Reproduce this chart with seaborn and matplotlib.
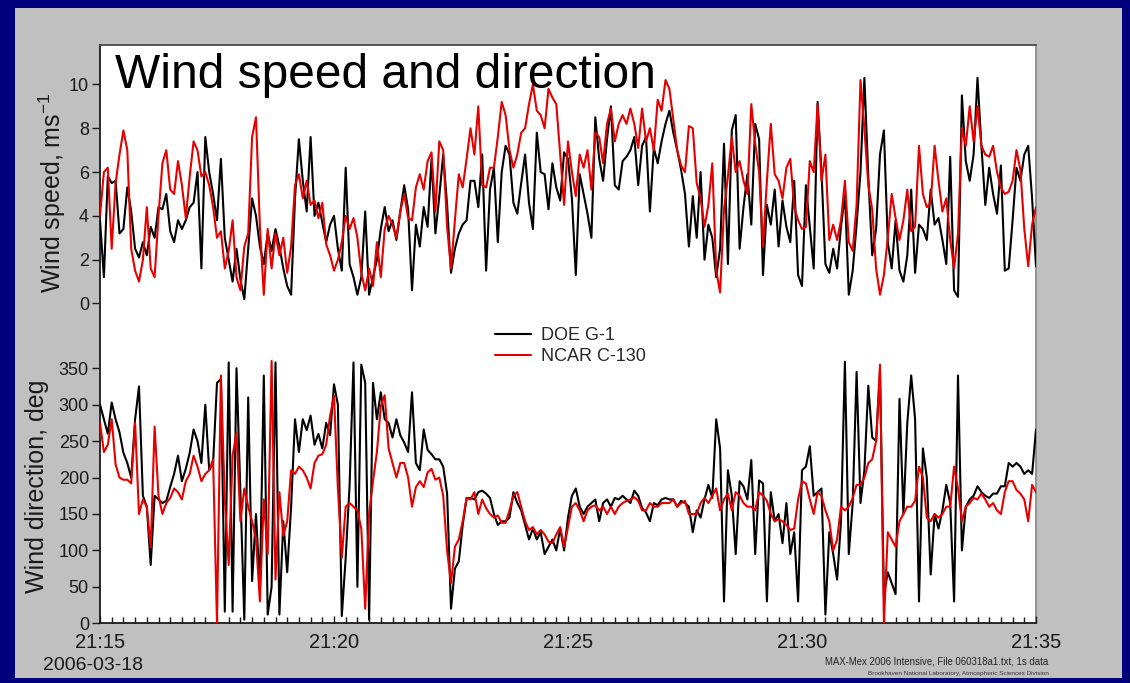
import numpy as np
import pandas as pd
import matplotlib
matplotlib.use("Agg")
import matplotlib.pyplot as plt
from matplotlib.patches import Rectangle
from matplotlib.lines import Line2D
from matplotlib.ticker import MultipleLocator
import seaborn as sns

# Sample times: seconds after 21:15:00, one value every 5 s up to 21:35:00
seconds = np.arange(0, 1201, 5)

aircraft = ["DOE G-1", "NCAR C-130"]
line_colors = ["#000000", "#e60000"]

# Wind speed, m/s
g1_speed = [
    3.8, 1.2, 5.8, 5.5, 5.6, 3.2, 3.4, 5.3, 4.2, 2.5,
    2.1, 2.8, 2.2, 3.5, 3.0, 4.4, 4.3, 5.0, 3.3, 2.8,
    3.8, 3.4, 3.8, 4.4, 4.6, 6.0, 1.6, 7.6, 6.0, 5.0,
    3.8, 6.6, 3.0, 2.0, 1.0, 2.5, 1.1, 0.2, 2.5, 4.8,
    4.0, 2.6, 1.8, 3.2, 2.4, 3.4, 2.6, 1.6, 0.8, 0.4,
    4.8, 7.5, 5.6, 4.2, 7.6, 4.0, 4.6, 3.7, 2.8, 3.6,
    4.0, 2.5, 1.5, 6.2, 1.8, 1.2, 0.4, 1.2, 4.2, 0.4,
    1.2, 2.0, 3.4, 4.4, 3.3, 3.8, 2.9, 4.2, 5.4, 4.3,
    0.6, 3.6, 2.6, 4.4, 3.5, 6.6, 3.2, 4.9, 6.8, 4.5,
    1.4, 2.5, 3.2, 3.6, 3.8, 5.6, 5.6, 4.4, 6.8, 1.5,
    5.2, 6.2, 2.8, 6.0, 7.2, 6.8, 4.6, 4.1, 5.5, 6.8,
    4.6, 3.4, 7.8, 6.0, 5.9, 4.3, 6.4, 5.3, 4.7, 6.9,
    6.6, 4.8, 1.3, 5.9, 5.0, 4.1, 3.0, 8.5, 6.6, 5.6,
    7.5, 9.0, 5.4, 5.2, 6.5, 6.7, 7.0, 7.6, 5.4, 7.2,
    7.6, 4.2, 7.1, 6.4, 7.4, 8.2, 8.8, 7.8, 7.0, 6.1,
    5.0, 2.6, 4.9, 3.0, 6.0, 2.0, 3.6, 3.0, 1.2, 2.5,
    7.3, 1.8, 7.9, 8.6, 2.5, 4.4, 5.9, 3.6, 8.2, 7.5,
    1.3, 4.5, 3.6, 5.2, 2.6, 4.7, 3.5, 2.8, 5.6, 1.3,
    0.8, 5.4, 3.5, 1.6, 9.2, 6.0, 1.8, 1.4, 2.5, 1.6,
    3.5, 5.0, 0.4, 1.5, 3.6, 6.0, 10.3, 5.8, 2.2, 3.4,
    6.8, 7.9, 2.8, 1.6, 3.8, 1.5, 1.0, 2.2, 5.2, 1.4,
    3.6, 3.4, 2.9, 5.2, 3.6, 3.9, 2.9, 1.8, 6.7, 0.6,
    0.3, 9.5, 6.5, 5.6, 6.8, 10.3, 7.2, 4.5, 6.2, 5.0,
    4.1, 6.3, 1.5, 1.6, 3.8, 6.2, 5.6, 6.8, 7.2, 4.8, 1.7,
]
c130_speed = [
    4.0, 6.0, 6.2, 2.5, 5.5, 6.8, 7.9, 7.0, 2.5, 1.5,
    1.0, 2.0, 4.4, 1.6, 1.2, 4.0, 6.4, 7.0, 5.2, 5.0,
    6.5, 5.4, 3.9, 5.8, 7.4, 7.0, 5.8, 6.0, 5.4, 4.4,
    3.0, 3.3, 1.6, 2.4, 3.8, 1.2, 0.6, 2.6, 3.2, 7.6,
    8.5, 3.5, 0.4, 3.4, 1.6, 3.2, 2.2, 3.0, 1.4, 2.6,
    5.4, 5.9, 4.8, 5.6, 4.5, 4.7, 3.9, 4.6, 2.7, 2.2,
    1.5, 2.0, 2.8, 4.0, 3.4, 3.9, 3.0, 1.4, 0.6, 1.6,
    0.8, 2.8, 1.2, 3.4, 4.0, 3.6, 3.0, 4.2, 5.0, 3.9,
    3.8, 5.3, 5.9, 5.2, 6.5, 6.9, 4.2, 7.4, 7.0, 3.5,
    1.6, 3.8, 5.9, 5.3, 6.6, 8.0, 6.8, 9.0, 5.4, 5.3,
    6.2, 6.2, 7.6, 9.2, 8.6, 7.0, 6.2, 6.8, 7.8, 8.0,
    9.1, 10.0, 8.8, 8.6, 8.0, 9.8, 9.4, 9.1, 6.8, 4.5,
    7.4, 6.0, 4.9, 6.8, 6.2, 7.0, 5.2, 7.8, 7.6, 6.4,
    8.2, 8.9, 7.4, 8.2, 8.6, 8.2, 8.9, 8.2, 7.1, 8.9,
    7.4, 8.0, 7.0, 9.3, 8.8, 10.2, 9.8, 8.4, 7.0, 6.3,
    6.0, 8.1, 8.0, 5.5, 4.8, 3.5, 4.5, 6.4, 1.5, 0.5,
    4.3, 5.8, 7.6, 6.0, 6.5, 5.6, 5.0, 9.1, 7.3, 6.0,
    2.6, 5.6, 8.2, 5.9, 5.6, 4.8, 6.2, 6.6, 4.4, 3.8,
    3.4, 3.5, 6.5, 6.0, 9.1, 5.6, 6.8, 2.9, 3.6, 2.9,
    3.8, 5.6, 2.8, 2.4, 4.5, 10.2, 8.0, 5.4, 4.3, 1.6,
    0.4, 1.3, 3.0, 5.0, 3.9, 2.9, 3.8, 5.2, 3.3, 3.5,
    7.2, 5.0, 4.4, 4.6, 7.2, 5.6, 4.2, 4.8, 2.9, 1.6,
    3.2, 8.0, 7.2, 9.0, 7.4, 9.0, 7.2, 6.8, 6.7, 7.2,
    6.0, 5.3, 5.0, 5.1, 5.6, 7.0, 6.1, 3.4, 1.7, 3.6, 4.4,
]

# Wind direction, degrees
g1_dir = [
    300, 280, 260, 303, 280, 262, 234, 220, 200, 280,
    325, 175, 160, 80, 175, 170, 165, 168, 187, 205,
    230, 195, 212, 234, 266, 250, 220, 300, 210, 220,
    330, 335, 16, 358, 16, 350, 180, 5, 310, 58,
    150, 49, 340, 12, 50, 358, 12, 140, 70, 160,
    280, 235, 280, 265, 285, 245, 260, 240, 275, 258,
    328, 300, 10, 90, 190, 358, 50, 355, 330, 5,
    330, 280, 317, 280, 275, 255, 280, 258, 248, 235,
    317, 220, 210, 266, 238, 232, 225, 225, 215, 178,
    20, 75, 85, 135, 172, 172, 170, 180, 182, 178,
    172, 150, 135, 140, 140, 145, 180, 165, 155, 135,
    115, 130, 115, 125, 95, 105, 115, 100, 130, 100,
    145, 175, 185, 160, 150, 160, 165, 170, 140, 165,
    170, 160, 172, 170, 175, 170, 165, 182, 175, 158,
    152, 140, 165, 162, 170, 172, 170, 170, 160, 168,
    165, 160, 125, 155, 145, 170, 190, 172, 280, 240,
    30, 210, 175, 95, 195, 188, 170, 224, 95, 196,
    192, 30, 180, 140, 150, 110, 165, 95, 125, 30,
    210, 215, 243, 175, 180, 185, 12, 125, 95, 60,
    140, 359, 95, 165, 345, 165, 210, 326, 255, 250,
    345, 39, 70, 55, 40, 308, 150, 275, 340, 280,
    30, 240, 200, 67, 150, 130, 155, 190, 165, 30,
    340, 100, 160, 170, 175, 188, 180, 175, 172, 178,
    178, 188, 188, 220, 215, 220, 215, 205, 210, 205, 266,
]
c130_dir = [
    275, 235, 245, 280, 218, 200, 197, 197, 192, 275,
    150, 170, 160, 104, 270, 175, 150, 165, 172, 185,
    180, 170, 195, 205, 230, 215, 195, 205, 210, 225,
    0, 340, 170, 80, 230, 262, 140, 185, 160, 140,
    115, 30, 170, 95, 360, 60, 180, 120, 140, 210,
    205, 215, 210, 200, 185, 220, 230, 232, 245, 285,
    312, 185, 90, 160, 165, 160, 155, 130, 20, 150,
    195, 235, 298, 313, 240, 220, 200, 220, 220, 200,
    160, 187, 195, 187, 207, 212, 197, 200, 175, 100,
    55, 105, 115, 140, 172, 170, 180, 150, 170, 158,
    150, 145, 148, 138, 138, 155, 175, 180, 160, 140,
    128, 132, 122, 128, 122, 112, 110, 122, 132, 105,
    132, 160, 165, 155, 140, 155, 160, 162, 155, 160,
    150, 160, 150, 160, 165, 168, 170, 173, 168, 155,
    155, 165, 160, 160, 165, 165, 165, 170, 160, 165,
    168, 150, 150, 150, 165, 172, 165, 175, 185, 155,
    170, 178, 155, 180, 175, 165, 160, 160, 155, 180,
    175, 168, 150, 140, 143, 140, 135, 128, 130, 170,
    195, 192, 170, 150, 180, 175, 155, 140, 100, 115,
    160, 155, 160, 172, 190, 190, 200, 220, 225, 250,
    355, 0, 125, 115, 105, 140, 150, 160, 160, 168,
    215, 200, 145, 140, 150, 145, 150, 160, 160, 215,
    185, 140, 160, 165, 172, 170, 178, 170, 160, 165,
    155, 150, 180, 195, 195, 183, 178, 170, 140, 190, 180,
]

time_ticks = [0, 300, 600, 900, 1200]
time_labels = ["21:15", "21:20", "21:25", "21:30", "21:35"]
speed_ticks = [0, 2, 4, 6, 8, 10]
dir_ticks = [0, 50, 100, 150, 200, 250, 300, 350]

n = len(seconds)
df = pd.DataFrame({
    "seconds": np.concatenate([seconds, seconds]),
    "aircraft": [aircraft[0]] * n + [aircraft[1]] * n,
    "speed": np.concatenate([g1_speed, c130_speed]),
    "direction": np.concatenate([g1_dir, c130_dir]),
})
palette = dict(zip(aircraft, line_colors))

sns.set_theme(style="ticks")
plt.rcParams["font.family"] = ["Liberation Sans", "DejaVu Sans"]
plt.rcParams["mathtext.default"] = "regular"

W_PX, H_PX = 1130, 683
fig = plt.figure(figsize=(W_PX / 100, H_PX / 100), dpi=100, facecolor="#00007c")


def fx(px):
    return px / W_PX


def fy(py):
    return 1 - py / H_PX


# grey slide panel
fig.add_artist(Rectangle((fx(15), fy(678)), fx(1122) - fx(15), fy(8) - fy(678),
                         transform=fig.transFigure, facecolor="#c0c0c0",
                         edgecolor="none", zorder=-2))

left, right = fx(100), fx(1036)
# white plotting frame shared by both panels
bg = fig.add_axes([left, fy(623.3), right - left, fy(45) - fy(623.3)])
bg.set_facecolor("white")
bg.set_xticks([])
bg.set_yticks([])
bg.spines["left"].set_color("#1a1a1a")
bg.spines["bottom"].set_color("#1a1a1a")
bg.spines["top"].set_color("#4a4a4a")
bg.spines["right"].set_color("#8c8c8c")
for s in bg.spines.values():
    s.set_linewidth(1.3)

ax1 = fig.add_axes([left, fy(315), right - left, fy(45) - fy(315)])
ax2 = fig.add_axes([left, fy(623.3), right - left, fy(359.5) - fy(623.3)])

sns.lineplot(data=df, x="seconds", y="speed", hue="aircraft", hue_order=aircraft,
             palette=palette, linewidth=1.5, legend=False, estimator=None, ax=ax1)
sns.lineplot(data=df, x="seconds", y="direction", hue="aircraft", hue_order=aircraft,
             palette=palette, linewidth=1.5, legend=False, estimator=None, ax=ax2)

for ax in (ax1, ax2):
    ax.set_facecolor("none")
    for s in ax.spines.values():
        s.set_visible(False)
    ax.set_xlim(0, 1200)
    ax.set_xlabel("")
    ax.set_ylabel("")
    ax.tick_params(axis="y", direction="out", length=6, width=1, color="#1a1a1a",
                   labelsize=13, labelcolor="#1a1a1a", pad=2)

ax1.set_ylim(-0.525, 11.8)
ax1.set_yticks(speed_ticks)
ax1.tick_params(axis="x", bottom=False, labelbottom=False)

ax2.set_ylim(0, 362)
ax2.set_yticks(dir_ticks)
ax2.set_xticks(time_ticks, time_labels)
ax2.xaxis.set_minor_locator(MultipleLocator(15))
ax2.tick_params(axis="x", which="major", direction="in", length=5, width=1,
                color="#1a1a1a", labelsize=14.5, labelcolor="#1a1a1a", pad=7)
ax2.tick_params(axis="x", which="minor", direction="in", length=4, width=1,
                color="#1a1a1a")

fig.text(fx(115), fy(88), "Wind speed and direction", fontsize=34.5,
         ha="left", va="baseline", color="black")
fig.text(fx(52), fy(193), "Wind speed, ms$^{-1}$", rotation=90, fontsize=18,
         ha="center", va="center", color="#1a1a1a")
fig.text(fx(37), fy(486), "Wind direction, deg", rotation=90, fontsize=18,
         ha="center", va="center", color="#1a1a1a")
fig.text(fx(93), fy(665), "2006-03-18", fontsize=14, ha="center", va="center",
         color="#1a1a1a")
fig.text(fx(937), fy(662), "MAX-Mex 2006 Intensive, File 060318a1.txt, 1s data",
         fontsize=6.9, ha="center", va="center", color="#222222")
fig.text(fx(958), fy(673),
         "Brookhaven National Laboratory, Atmospheric Sciences Division",
         fontsize=4.6, ha="center", va="center", color="#333333")

handles = [Line2D([], [], color=c, linewidth=1.5) for c in line_colors]
fig.legend(handles, aircraft, loc="center left",
           bbox_to_anchor=(fx(495), fy(346)), frameon=False, fontsize=13,
           handlelength=2.0, handletextpad=0.55, labelspacing=0.22,
           borderpad=0, borderaxespad=0)

fig.savefig("out.png", dpi=100, facecolor=fig.get_facecolor())
